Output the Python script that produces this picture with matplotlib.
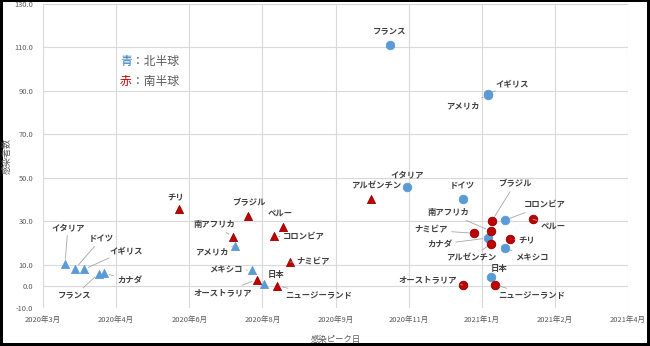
import numpy as np
import matplotlib
matplotlib.use("Agg")
import matplotlib.pyplot as plt
from matplotlib.patches import Rectangle

plt.rcParams['font.family'] = ['Noto Sans CJK JP', 'DejaVu Sans']

# 第1波・北半球（青▲）
n1_names = ["イタリア", "ドイツ", "イギリス", "フランス", "カナダ", "アメリカ", "メキシコ", "日本"]
n1_dates = ["2020-03-25", "2020-04-01", "2020-04-07", "2020-04-17", "2020-04-21",
            "2020-07-19", "2020-07-31", "2020-08-08"]
n1_values = [10.1, 8.1, 7.8, 5.8, 6.0, 18.7, 7.5, 1.2]

# 第1波・南半球（赤▲）
s1_names = ["チリ", "南アフリカ", "ブラジル", "オーストラリア", "コロンビア",
            "ニュージーランド", "ペルー", "ナミビア", "アルゼンチン"]
s1_dates = ["2020-06-11", "2020-07-18", "2020-07-28", "2020-08-03", "2020-08-15",
            "2020-08-17", "2020-08-21", "2020-08-26", "2020-10-20"]
s1_values = [35.5, 22.7, 32.5, 3.0, 23.0, 0.3, 27.5, 11.2, 40.3]

# 第2波・北半球（青●）
n2_names = ["フランス", "イタリア", "ドイツ", "イギリス", "アメリカ", "カナダ",
            "日本", "コロンビア", "メキシコ"]
n2_dates = ["2020-11-02", "2020-11-14", "2020-12-22", "2021-01-08", "2021-01-08",
            "2021-01-08", "2021-01-10", "2021-01-20", "2021-01-20"]
n2_values = [111.3, 45.6, 40.3, 88.4, 87.9, 22.2, 4.3, 30.5, 17.6]

# 第2波・南半球（赤●）
s2_names = ["オーストラリア", "ナミビア", "南アフリカ", "アルゼンチン", "ブラジル",
            "ニュージーランド", "チリ", "ペルー"]
s2_dates = ["2020-12-22", "2020-12-30", "2021-01-10", "2021-01-10", "2021-01-11",
            "2021-01-13", "2021-01-23", "2021-02-08"]
s2_values = [0.6, 24.4, 25.5, 19.5, 30.2, 0.7, 21.6, 30.9]

y_ticks = [-10, 0, 10, 30, 50, 70, 90, 110, 130]

# ラベル位置（マーカーからのピクセルオフセット, 引き出し線の有無）
n1_lab = [(3, 37, True), (26, 30, True), (42, 19, True), (-24, -22, True),
          (25, -7, True), (-23, -6, True), (-26, 0, True), (12, 9, False)]
s1_lab = [(-3, 11, False), (-19, 12, True), (1, 13, False), (-34, -13, True),
          (30, -1, True), (42, -10, True), (-3, 13, False), (23, 0, True), (6, 13, False)]
n2_lab = [(0, 13, False), (0, 12, False), (0, 13, False), (25, 11, True),
          (-25, -10, True), (-48, -6, True), (9, 8, False), (40, 15, True), (27, -10, True)]
s2_lab = [(-35, 5, True), (-43, 3, True), (-42, 18, True), (-19, -14, True),
          (23, 37, True), (37, -11, True), (17, -1, True), (20, -7, True)]

BLUE = "#5B9BD5"
RED = "#C00000"

fig = plt.figure(figsize=(6.5, 3.46), dpi=100)
fig.patch.set_facecolor("black")
fig.patches.append(Rectangle((3 / 650, 3 / 346), 644 / 650, 341 / 346,
                             transform=fig.transFigure, facecolor="white",
                             edgecolor="none", zorder=-10))

ax = fig.add_axes([43 / 650, 38 / 346, 585 / 650, 304 / 346])
ax.set_facecolor("none")
ax.set_zorder(1)

x_start = np.datetime64("2020-03-10")
x_ticks = x_start + np.arange(9) * np.timedelta64(50, "D")
ax.set_xlim(x_ticks[0], x_ticks[-1])
ax.set_ylim(-10, 130)


def draw(names, dates, values, marker, color, edge, size, labs):
    d = np.array(dates, dtype="datetime64[D]")
    ax.scatter(d, values, marker=marker, s=size, color=color, edgecolor=edge,
               linewidth=0.6, zorder=3)
    for name, x, y, (dx, dy, lead) in zip(names, d, values, labs):
        kw = {}
        if lead:
            kw["arrowprops"] = dict(arrowstyle="-", color="#A6A6A6", lw=0.6,
                                    shrinkA=0.5, shrinkB=3.5)
        ax.annotate(name, xy=(x, y), xytext=(dx, dy), textcoords="offset pixels",
                    ha="center", va="center", fontsize=6, color="#404040",
                    fontweight="bold", zorder=4, **kw)


draw(n1_names, n1_dates, n1_values, "^", BLUE, BLUE, 34, n1_lab)
draw(s1_names, s1_dates, s1_values, "^", RED, "#9A0000", 34, s1_lab)
draw(n2_names, n2_dates, n2_values, "o", BLUE, BLUE, 38, n2_lab)
draw(s2_names, s2_dates, s2_values, "o", RED, "#8A0000", 38, s2_lab)

ax.set_xticks(x_ticks)
ax.set_xticklabels([f"{t.astype(object).year}年{t.astype(object).month}月" for t in x_ticks])
ax.set_yticks(y_ticks)
ax.set_yticklabels([f"{v:.1f}" for v in y_ticks])
ax.tick_params(axis="both", length=0, labelsize=5.4, labelcolor="#595959")
ax.tick_params(axis="x", pad=6)
ax.tick_params(axis="y", pad=7)
ax.grid(True, color="#D9D9D9", lw=0.8, zorder=0)
ax.set_axisbelow(True)
# 下端（-10）には目盛線を引かない
ax.yaxis.get_gridlines()[0].set_visible(False)
for s in ax.spines.values():
    s.set_visible(False)

ax.set_xlabel("感染ピーク日", fontsize=6, color="#595959")
ax.xaxis.set_label_coords(0.5, -(335 - 308) / 304)
ax.set_ylabel("感染者数", fontsize=6.5, color="#595959")
ax.yaxis.set_label_coords(-(43 - 12) / 585, 0.5)

# 色の意味を示す注記
t1 = fig.text(120 / 650, 1 - 61 / 346, "青", fontsize=8.5, color="#2E75B6",
              va="center", ha="left")
ax.annotate("：北半球", xy=(1, 0.5), xycoords=t1, fontsize=8.5, color="#595959",
            va="center", ha="left")
t2 = fig.text(120 / 650, 1 - 81 / 346, "赤", fontsize=8.5, color=RED,
              va="center", ha="left")
ax.annotate("：南半球", xy=(1, 0.5), xycoords=t2, fontsize=8.5, color="#595959",
            va="center", ha="left")

fig.savefig("out.png", dpi=100, facecolor=fig.get_facecolor())
